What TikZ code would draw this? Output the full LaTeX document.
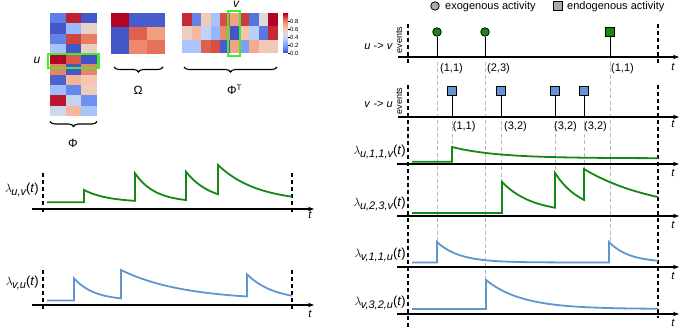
\documentclass[tikz,border=0pt]{standalone}
\usepackage{fontspec}
\setmainfont{Liberation Sans}
\usetikzlibrary{arrows.meta,positioning,decorations.pathreplacing}
\definecolor{cw0}{RGB}{59,76,192}
\definecolor{cw1}{RGB}{98,130,234}
\definecolor{cw2}{RGB}{141,176,254}
\definecolor{cw3}{RGB}{184,208,249}
\definecolor{cw4}{RGB}{221,221,221}
\definecolor{cw5}{RGB}{245,196,173}
\definecolor{cw6}{RGB}{244,154,123}
\definecolor{cw7}{RGB}{222,96,77}
\definecolor{cw8}{RGB}{180,4,38}
\definecolor{hlGreen}{RGB}{70,235,45}
\definecolor{evGreen}{RGB}{20,135,20}
\definecolor{evBlue}{RGB}{96,150,208}
\definecolor{markGrey}{RGB}{170,170,170}
\newcommand{\heatmap}[5]{%
  \foreach \rw/\row in {#5} {
    \foreach \v [count=\col from 0] in \row {
      \pgfmathtruncatemacro\cwlo{min(floor(\v),7)}
      \pgfmathtruncatemacro\cwhi{\cwlo+1}
      \pgfmathtruncatemacro\cwpc{round(100*(\cwhi-\v))}
      \fill[cw\cwlo!\cwpc!cw\cwhi] ({#1+\col*#3},{#2+\rw*#4}) rectangle ++(#3,#4);
    }
  }%
}
\newcommand{\lam}[1]{$\lambda$\kern-0.5pt\raisebox{-0.3ex}{\fontsize{11}{12}\selectfont\itshape #1}(\textit{t})}

\begin{document}
\begin{tikzpicture}[x=1pt,y=-1pt,font=\fontsize{11}{13}\selectfont,
  declare function={dk(\s,\tau)=exp(-(\s)/(\tau));},
  axisline/.style={line width=1.1pt,-{Stealth[length=6pt,width=4.5pt]}},
  limit/.style={line width=1.3pt,dash pattern=on 4pt off 3pt},
  guide/.style={gray!55,line width=0.7pt,dash pattern=on 4pt off 2.5pt},
  gcurve/.style={evGreen,line width=1.8pt},
  bcurve/.style={evBlue,line width=1.8pt},
  exo/.style={circle,draw=black,line width=0.8pt,inner sep=0pt,minimum size=8.5pt},
  endo/.style={rectangle,draw=black,line width=0.8pt,inner sep=0pt,minimum size=8.5pt},
  stem/.style={line width=1pt},
  brace/.style={decorate,decoration={brace,amplitude=5pt},line width=1.1pt},
  hl/.style={draw=hlGreen,line width=2.3pt},
  lab/.style={anchor=base east,inner sep=0pt,font=\fontsize{13}{15}\selectfont},
  small/.style={anchor=base west,inner sep=0pt}]
\useasboundingbox (0,0) rectangle (681,328);

% matrices
\heatmap{50}{13}{15.7}{10.3}{0/{0.9,7.7,0.2},1/{0.2,2.3,4.5},2/{1.0,7.3,6.5},3/{2.6,0.2,4.6},4/{8,7.1,0.1},5/{6.4,0.2,6.4},6/{0.4,5.4,4.9},7/{2.4,1.1,4.7},8/{7.8,3.3,1.3},9/{3.6,5.3,2.6}}
\heatmap{111}{13}{18}{13.67}{0/{8,0.3,0.3},1/{0.2,7.0,5.9},2/{0.2,6.3,6.7}}
\heatmap{182}{13}{9.6}{13.33}{0/{7.6,1.0,4.8,2.6,7.2,5.8,7.4,0.7,4.1,8},1/{4.6,5.3,3.2,2.2,6.3,0.2,5.0,3.0,0.8,7.6},2/{2.7,2.7,7.0,7.2,0.3,5.8,1.6,5.6,4.8,4.8}}
\foreach \i [evaluate=\i as \j using int(\i+1)] in {0,...,7}
  \shade[bottom color=cw\i,top color=cw\j] (283,{53-4.925*\i}) rectangle (288,{53-4.925*(\i+1)});
\foreach \tk/\lbl in {0/0.0,1/0.2,2/0.4,3/0.6,4/0.8} {
  \draw[line width=0.4pt] (288,{53-7.88*\tk}) -- ++(1.5,0);
  \node[anchor=west,inner sep=0.5pt,font=\fontsize{6}{7}\selectfont] (cb\tk) at (289.5,{53-7.88*\tk}) {\lbl};
}
\draw[hl] (48,54) rectangle (98.5,68);
\draw[hl] (228.3,11.2) rectangle (240,56);
\node[anchor=base,inner sep=0pt,font=\fontsize{12}{14}\selectfont\itshape] (uLab) at (37,63.5) {u};
\node[anchor=base,inner sep=0pt,text height=5.5pt,text depth=0pt,font=\fontsize{12}{14}\selectfont\itshape] (vLab) at (236,8) {v};
\draw[brace] (97,121.5) -- (50,121.5);
\draw[brace] (163,67) -- (114,67);
\draw[brace] (277,67) -- (184,67);
\node[anchor=base,inner sep=0pt,font=\fontsize{12}{14}\selectfont] (phiLab) at (73,148) {Φ};
\node[anchor=base,inner sep=0pt,font=\fontsize{12}{14}\selectfont] (omLab) at (138,95) {Ω};
\node[anchor=base,inner sep=0pt,font=\fontsize{12}{14}\selectfont] (phiTLab) at (234.5,95) {Φ\textsuperscript{T}};

% legend
\node[exo,fill=markGrey] (lgExo) at (435,6) {};
\node[small] (lgExoT) at (445,9.5) {exogenous activity};
\node[endo,fill=markGrey] (lgEndo) at (558,6) {};
\node[small] (lgEndoT) at (567,9.5) {endogenous activity};

% u -> v events
\coordinate (uvL) at (398,57);
\coordinate (uvR) at (679,57);
\draw[guide] (437,62) -- (437,242);
\draw[guide] (485,62) -- (485,280);
\draw[guide] (610,62) -- (610,242);
\draw[axisline] (uvL) -- (uvR);
\draw[limit] (408,24) -- (408,63);
\draw[limit] (658,24) -- (658,63);
\node[exo,fill=evGreen] (ex1) at (437,32) {};
\node[exo,fill=evGreen] (ex2) at (485,32) {};
\node[endo,fill=evGreen] (en1) at (610,32) {};
\foreach \e in {ex1,ex2,en1} \draw[stem] (\e.south) -- (\e |- uvL);
\node[small] (l1) at (440,71.5) {(1,1)};
\node[small] (l2) at (487,71.5) {(2,3)};
\node[small] (l3) at (611,71.5) {(1,1)};
\node[anchor=base,inner sep=0pt] (t1) at (673,71) {\textit{t}};
\node[anchor=base east,inner sep=0pt] (uvLab) at (393,50) {\textit{u} -> \textit{v}};
\node[rotate=90,anchor=base,inner sep=0pt,font=\fontsize{9}{10}\selectfont] (evA) at (402,40) {events};

% v -> u events
\coordinate (vuL) at (398,117);
\coordinate (vuR) at (679,117);
\draw[guide] (452,121) -- (452,148);
\draw[guide] (501,121) -- (501,182);
\draw[guide] (555,121) -- (555,173);
\draw[guide] (584,121) -- (584,170);
\draw[axisline] (vuL) -- (vuR);
\draw[limit] (408,85) -- (408,328);
\draw[limit] (658,85) -- (658,318);
\node[endo,fill=evBlue] (en2) at (452,91) {};
\node[endo,fill=evBlue] (en3) at (501,91) {};
\node[endo,fill=evBlue] (en4) at (555,91) {};
\node[endo,fill=evBlue] (en5) at (584,91) {};
\foreach \e in {en2,en3,en4,en5} \draw[stem] (\e.south) -- (\e |- vuL);
\node[small] (l4) at (452.7,130) {(1,1)};
\node[small] (l5) at (504,130) {(3,2)};
\node[small] (l6) at (554,130) {(3,2)};
\node[small] (l7) at (584,130) {(3,2)};
\node[anchor=base,inner sep=0pt] (t2) at (673,128) {\textit{t}};
\node[anchor=base east,inner sep=0pt] (vuLab) at (393,108) {\textit{v} -> \textit{u}};
\node[rotate=90,anchor=base,inner sep=0pt,font=\fontsize{9}{10}\selectfont] (evB) at (402,101) {events};

% right intensities
\foreach \ay/\n in {164/3,216/4,267/5,314/6} {
  \draw[axisline] (397,\ay) -- (679,\ay);
  \node[anchor=base,inner sep=0pt] (t\n) at (673,{\ay+12.3}) {\textit{t}};
}
\draw[gcurve] (412,161.7) -- (452,161.7) -- plot[domain=452:658,samples=60] (\x,{158.3-11.3*dk(\x-452,45)});
\draw[gcurve] (412,213) -- (502,213) -- plot[domain=502:555,samples=30] (\x,{213-31*dk(\x-502,30)})
  -- plot[domain=555:584,samples=20] (\x,{213-40*dk(\x-555,26)})
  -- plot[domain=584:658,samples=40] (\x,{213-44*dk(\x-584,73)});
\draw[bcurve] (412,262.5) -- (437,262.5) -- plot[domain=437:609,samples=70] (\x,{262.5-20.5*dk(\x-437,22)})
  -- plot[domain=609:658,samples=30] (\x,{262.5-20.5*dk(\x-609,20)});
\draw[bcurve] (412,309) -- (486,309) -- plot[domain=486:658,samples=70] (\x,{309-29*dk(\x-486,36)});
\node[lab] (r1) at (406,155) {\lam{u,1,1,v}};
\node[lab] (r2) at (406,207) {\lam{u,2,3,v}};
\node[lab] (r3) at (406,258) {\lam{v,1,1,u}};
\node[lab] (r4) at (406,306) {\lam{v,3,2,u}};

% left intensities
\draw[axisline] (32,209) -- (314,209);
\draw[axisline] (32,305) -- (314,305);
\draw[limit] (43,173) -- (43,212);
\draw[limit] (292,173) -- (292,212);
\draw[limit] (43,270) -- (43,310);
\draw[limit] (292,270) -- (292,310);
\draw[gcurve] (47,202.3) -- (84,202.3) -- plot[domain=84:135,samples=30] (\x,{202.3-12.3*dk(\x-84,24)})
  -- plot[domain=135:186,samples=30] (\x,{202.3-29*dk(\x-135,20)})
  -- plot[domain=186:218,samples=20] (\x,{202.3-30.6*dk(\x-186,24)})
  -- plot[domain=218:292,samples=40] (\x,{202.3-37.3*dk(\x-218,39)});
\draw[bcurve] (47,300.5) -- (74,300.5) -- plot[domain=74:121,samples=30] (\x,{300.5-22.2*dk(\x-74,20)})
  -- plot[domain=121:247,samples=50] (\x,{300.5-30.5*dk(\x-121,62)})
  -- plot[domain=247:292,samples=30] (\x,{300.5-26.2*dk(\x-247,26.5)});
\node[lab] (luv) at (39,193) {\lam{u,v}};
\node[lab] (lvu) at (39,286) {\lam{v,u}};
\node[anchor=base,inner sep=0pt] (t7) at (310,219) {\textit{t}};
\node[anchor=base,inner sep=0pt] (t8) at (310,317.5) {\textit{t}};
\end{tikzpicture}
\end{document}
